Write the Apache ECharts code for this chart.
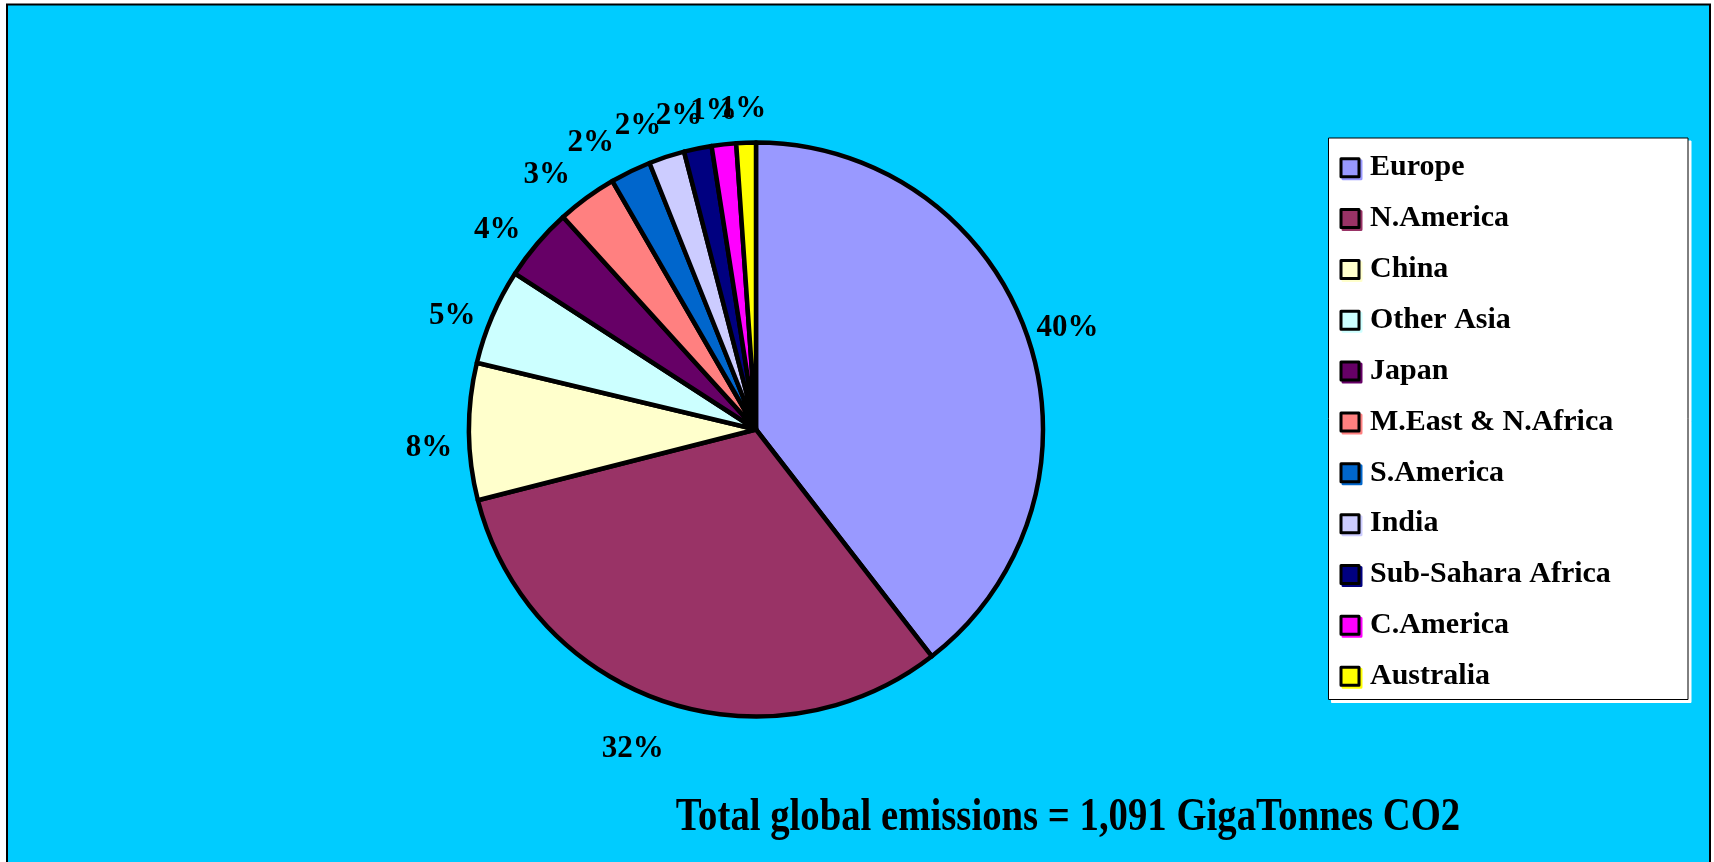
<!DOCTYPE html>
<html>
<head>
<meta charset="utf-8">
<title>Cumulative CO2 emissions by region</title>
<script src="https://cdn.jsdelivr.net/npm/echarts@6/dist/echarts.min.js"></script>
<style>
  html, body { margin: 0; padding: 0; background: #ffffff; }
  #chart { width: 1714px; height: 862px; }
</style>
</head>
<body>
<div id="chart"></div>
<script>
// Regions, in the order the slices run clockwise from twelve o'clock
const regions = ['Europe', 'N.America', 'China', 'Other Asia', 'Japan', 'M.East & N.Africa',
                 'S.America', 'India', 'Sub-Sahara Africa', 'C.America', 'Australia'];
// Cumulative CO2 emissions per region, GigaTonnes
const emissions = [431, 344, 84, 59, 45, 37, 25, 22, 17, 15, 12];
// Slice fill colours
const sliceColors = ['#9999FF', '#993366', '#FFFFCC', '#CCFFFF', '#660066', '#FF8080',
                     '#0066CC', '#CCCCFF', '#000080', '#FF00FF', '#FFFF00'];

const total = emissions.reduce((a, b) => a + b, 0);
const totalText = 'Total global emissions = ' + total.toLocaleString('en-US') + ' GigaTonnes CO2';

const SERIF = '"Liberation Serif", "Times New Roman", serif';

const chart = echarts.init(document.getElementById('chart'), null, { renderer: 'canvas' });

// Percentage labels sit just outside the rim: a box-style offset from the
// rim point at each slice's mid-angle (sideways offset saturates, like a
// label box resting against the pie; boxes on the left hang a little lower)
function placeLabel(p) {
  let x1, y1, dx, dy;
  const pts = p.labelLinePoints;
  if (pts && pts.length >= 2) {
    x1 = pts[0][0]; y1 = pts[0][1];
    const vx = pts[1][0] - x1, vy = pts[1][1] - y1;
    const len = Math.hypot(vx, vy) || 1;
    dx = vx / len; dy = vy / len;
  } else {
    const lay = chart.getModel().getSeriesByIndex(0).getData().getItemLayout(p.dataIndex);
    const mid = (lay.startAngle + lay.endAngle) / 2;
    dx = Math.cos(mid); dy = Math.sin(mid);
    x1 = lay.cx + dx * lay.r; y1 = lay.cy + dy * lay.r;
  }
  const left = Math.max(0, -dx), down = Math.max(0, dy);
  const offX = Math.sign(dx) * Math.min(40, 92 * Math.abs(dx));
  const offY = dy * 38 + 4 + 12 * left * left + 8 * down * down;
  return {
    x: x1 + offX,
    y: y1 + offY,
    align: 'center',
    verticalAlign: 'middle'
  };
}

const option = {
  backgroundColor: '#ffffff',
  animation: false,
  graphic: [
    {
      // blue panel with black frame
      type: 'rect', z: 0, silent: true,
      shape: { x: 7, y: 4.5, width: 1703, height: 1000 },
      style: { fill: '#00CCFF', stroke: '#000000', lineWidth: 2 }
    },
    {
      // legend box
      type: 'rect', z: 1, silent: true,
      shape: { x: 1328.5, y: 138, width: 359.5, height: 561.5 },
      style: {
        fill: '#ffffff', stroke: '#000000', lineWidth: 1,
        shadowColor: '#ffffff', shadowOffsetX: 3, shadowOffsetY: 3, shadowBlur: 0
      }
    },
    {
      type: 'text', z: 5, silent: true,
      x: 1068, y: 818, scaleX: 0.842,
      style: {
        text: totalText,
        font: 'bold 46px ' + SERIF,
        fill: '#000000',
        align: 'center',
        verticalAlign: 'middle'
      }
    }
  ],
  legend: {
    orient: 'vertical',
    left: 1339.5,
    top: 152.7,
    padding: 0,
    itemWidth: 18,
    itemHeight: 18,
    itemGap: 20.85,
    icon: 'rect',
    selectedMode: false,
    data: regions.map((name, i) => ({
      name: name,
      itemStyle: {
        color: sliceColors[i],
        borderColor: '#000000',
        borderWidth: 3,
        shadowColor: sliceColors[i],
        shadowOffsetX: 2,
        shadowOffsetY: 2,
        shadowBlur: 0
      }
    })),
    textStyle: {
      fontFamily: SERIF,
      fontWeight: 'bold',
      fontSize: 30,
      lineHeight: 30,
      color: '#000000',
      padding: [0, 0, 0, 6]
    }
  },
  series: [
    {
      type: 'pie',
      center: [756, 429.5],
      radius: 287,
      startAngle: 90,
      clockwise: true,
      percentPrecision: 0,
      avoidLabelOverlap: false,
      emphasis: { disabled: true },
      itemStyle: { borderColor: '#000000', borderWidth: 4.5 },
      label: {
        show: true,
        position: 'outside',
        formatter: '{d}%',
        fontFamily: SERIF,
        fontWeight: 'bold',
        fontSize: 31,
        color: '#000000'
      },
      labelLine: {
        show: true,
        length: 10,
        length2: 0,
        lineStyle: { width: 0, opacity: 0 }
      },
      labelLayout: placeLabel,
      data: regions.map((name, i) => ({
        name: name,
        value: emissions[i],
        itemStyle: { color: sliceColors[i] }
      }))
    }
  ]
};

chart.setOption(option);
</script>
</body>
</html>
